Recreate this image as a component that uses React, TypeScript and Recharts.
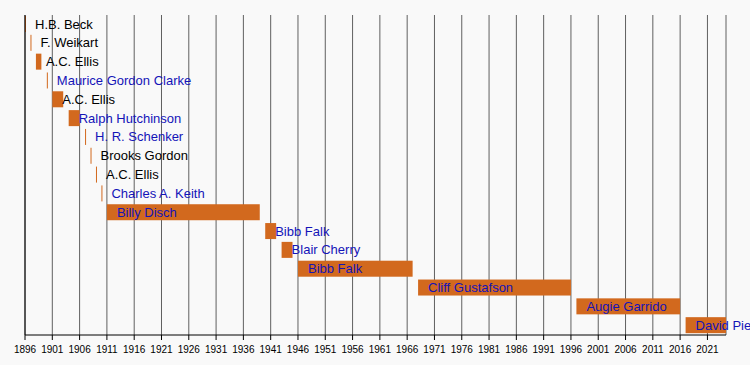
import React from "react";
import { BarChart, Bar, XAxis, YAxis, CartesianGrid } from "recharts";

const coaches = [
  "H.B. Beck",
  "F. Weikart",
  "A.C. Ellis",
  "Maurice Gordon Clarke",
  "A.C. Ellis",
  "Ralph Hutchinson",
  "H. R. Schenker",
  "Brooks Gordon",
  "A.C. Ellis",
  "Charles A. Keith",
  "Billy Disch",
  "Bibb Falk",
  "Blair Cherry",
  "Bibb Falk",
  "Cliff Gustafson",
  "Augie Garrido",
  "David Pierce",
];
const startYears = [1896, 1897, 1898, 1900, 1901, 1904, 1907, 1908, 1909, 1910, 1911, 1940, 1943, 1946, 1968, 1997, 2017];
const endYears = [1896, 1897, 1899, 1900, 1903, 1906, 1907, 1908, 1909, 1910, 1939, 1942, 1945, 1967, 1996, 2016, 2024.4];
const linked = [false, false, false, true, false, true, true, false, false, true, true, true, true, true, true, true, true];
const yearTicks = [1896, 1901, 1906, 1911, 1916, 1921, 1926, 1931, 1936, 1941, 1946, 1951, 1956, 1961, 1966, 1971, 1976, 1981, 1986, 1991, 1996, 2001, 2006, 2011, 2016, 2021];
const domainStart = 1896;
const domainEnd = 2024.4;

const rows = coaches.map((name, i) => ({
  id: String(i),
  label: name,
  linked: linked[i],
  range: [startYears[i], endYears[i]],
}));

const FONT = "'Liberation Sans', Arial, Helvetica, sans-serif";

const TermShape = (props: any) => {
  const { x, y, width, height, payload } = props;
  const w = Math.max(Math.abs(width), 1);
  const x0 = width < 0 ? x + width : x;
  return (
    <g>
      <rect x={x0} y={y} width={w} height={height} fill="#D2691E" />
      <text
        x={x0 + 10}
        y={y + height / 2}
        dy="0.35em"
        fontSize={13}
        fontFamily={FONT}
        fill={payload.linked ? "#1414b8" : "#000000"}
      >
        {payload.label}
      </text>
    </g>
  );
};

export default function App() {
  return (
    <div style={{ position: "absolute", left: 0, top: 0, width: 750, height: 365, background: "#f9f9f9", overflow: "hidden" }}>
      <BarChart
        width={750}
        height={365}
        data={rows}
        layout="vertical"
        margin={{ top: 15, right: 24, bottom: 0, left: 0 }}
        barSize={16}
        style={{ overflow: "visible" }}
      >
        <CartesianGrid horizontal={false} stroke="#606060" strokeDasharray="" />
        <XAxis
          type="number"
          domain={[domainStart, domainEnd]}
          ticks={yearTicks}
          interval={0}
          height={30}
          axisLine={{ stroke: "#000" }}
          tickLine={{ stroke: "#000" }}
          tickSize={5}
          tickMargin={6}
          tick={{ fontSize: 10, fontFamily: FONT, fill: "#000" }}
        />
        <YAxis
          type="category"
          dataKey="id"
          width={25}
          tick={false}
          tickLine={false}
          axisLine={{ stroke: "#000" }}
        />
        <Bar dataKey="range" shape={<TermShape />} isAnimationActive={false} />
      </BarChart>
    </div>
  );
}
